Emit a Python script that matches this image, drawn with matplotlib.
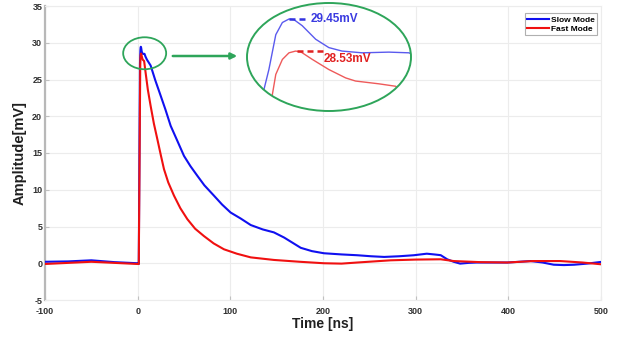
import matplotlib
matplotlib.use('Agg')
import matplotlib.pyplot as plt
from matplotlib.patches import Ellipse
import numpy as np

plt.rcParams['font.family'] = ['Liberation Sans', 'DejaVu Sans']
plt.rcParams['axes.unicode_minus'] = False

# Slow mode (blue) : time [ns], amplitude [mV]
t_slow = [-100, -75, -50, -25, 0, 1.2, 2.5, 2.73, 2.96, 3.18, 3.4, 3.57, 3.84, 4.29,
          4.73, 5.17, 5.84, 6.73, 7.4, 8.5, 10, 14, 19, 24.8, 30, 35.6, 43, 50, 57,
          64.4, 72, 82.3, 91, 100.3, 111, 122, 135, 147, 158, 167, 176, 188, 201,
          220, 237, 252, 266, 282, 298, 312, 320, 327, 334, 341, 348, 357, 366, 380,
          399, 412, 424, 437, 449, 460, 471, 485, 500]
v_slow = [0.2, 0.25, 0.4, 0.15, 0.0, -0.1, 27.2, 28.0, 29.0, 29.35, 29.45, 29.43, 29.26,
          28.87, 28.63, 28.53, 28.48, 28.5, 28.48, 28.1, 27.7, 26.9, 24.9, 22.8, 20.9,
          18.7, 16.6, 14.6, 13.2, 11.9, 10.6, 9.2, 8.0, 6.9, 6.1, 5.2, 4.6, 4.2, 3.5,
          2.8, 2.1, 1.65, 1.36, 1.2, 1.09, 0.95, 0.86, 0.95, 1.09, 1.3, 1.2, 1.1, 0.54,
          0.2, -0.05, 0.05, 0.1, 0.1, 0.1, 0.2, 0.3, 0.1, -0.2, -0.25, -0.2, -0.05, 0.18]

# Fast mode (red)
t_fast = [-100, -75, -50, -25, 0, 1.2, 2.79, 2.96, 3.18, 3.4, 3.62, 3.79, 4.18, 4.73,
          5.29, 5.62, 6.4, 6.96, 8.6, 11, 14, 17.5, 21.2, 25, 28.4, 33, 39.2, 46,
          53.6, 62, 71.5, 82, 93.1, 107, 122, 147, 175, 201, 220, 237, 255, 273, 300,
          327, 341, 370, 399, 427, 456, 480, 500]
v_fast = [-0.1, 0.05, 0.2, 0.05, -0.1, -0.1, 27.0, 27.86, 28.29, 28.48, 28.53, 28.51,
          28.29, 28.0, 27.76, 27.67, 27.59, 27.52, 25.9, 23.6, 21.4, 19.0, 16.9, 14.7,
          12.8, 11.0, 9.2, 7.5, 6.0, 4.7, 3.7, 2.7, 1.9, 1.3, 0.8, 0.45, 0.2, 0.0,
          -0.05, 0.1, 0.25, 0.4, 0.5, 0.54, 0.3, 0.15, 0.1, 0.3, 0.3, 0.1, -0.14]

peak_slow = 29.45
peak_fast = 28.53

W, H = 619, 341
fig = plt.figure(figsize=(W / 100, H / 100), dpi=100)
ax = fig.add_axes([45 / W, 1 - 300 / H, 556 / W, 294 / H])

ax.plot(t_slow, v_slow, color='#1010f0', lw=1.5, label='Slow Mode', zorder=3)
ax.plot(t_fast, v_fast, color='#f01010', lw=1.5, label='Fast Mode', zorder=3)

ax.set_xlim(-100, 500)
ax.set_ylim(-5, 35)
ax.set_xticks(np.arange(-100, 501, 100))
ax.set_yticks(np.arange(-5, 36, 5))
ax.grid(True, color='#ececec', lw=0.8)
ax.set_axisbelow(True)
for s in ['top', 'right', 'bottom']:
    ax.spines[s].set_color('#ececec')
ax.spines['left'].set_color('#b8b8b8')
ax.spines['left'].set_linewidth(1.6)
ax.tick_params(direction='in', length=3, color='#c0c0c0', labelsize=6.5,
               labelcolor='#303030', pad=2)
ax.tick_params(axis='x', pad=5)
for lab in ax.get_xticklabels() + ax.get_yticklabels():
    lab.set_fontweight('bold')
ax.set_xlabel('Time [ns]', fontsize=10, fontweight='bold', color='#202020', labelpad=1)
ax.set_ylabel('Amplitude[mV]', fontsize=10.5, fontweight='bold', color='#202020', labelpad=4)

leg = ax.legend(loc='upper right', bbox_to_anchor=(0.993, 0.975), fontsize=6,
                prop={'weight': 'bold', 'size': 6}, fancybox=False, framealpha=1,
                edgecolor='#b0b0b0', handlelength=2.6, borderpad=0.3,
                labelspacing=0.15, handletextpad=0.2, borderaxespad=0)
leg.get_frame().set_linewidth(0.8)

green = '#2ea55a'
# small ellipse around the peak
ax.add_patch(Ellipse((7.55, 28.57), 46.4, 4.35, fill=False, ec=green, lw=1.3, zorder=4))

# arrow to the zoomed view
ax.annotate('', xy=(240 / W, 1 - 56 / H), xytext=(170 / W, 1 - 56 / H),
            xycoords='figure fraction', textcoords='figure fraction',
            arrowprops=dict(arrowstyle='-|>', color=green, lw=1.8, mutation_scale=9))

# zoomed view inside big ellipse
big = Ellipse((329 / W, 1 - 57 / H), 164 / W, 108 / H, transform=fig.transFigure,
              fill=False, ec=green, lw=1.4, zorder=10)
fig.add_artist(big)

ins = fig.add_axes([247 / W, 1 - 111 / H, 164 / W, 108 / H])
ins.patch.set_visible(False)
ins.axis('off')
ins.set_xlim(2.0, 7.47)
ins.set_ylim(26.81, 29.91)
l1, = ins.plot(t_slow, v_slow, color='#5a5aee', lw=1.0)
l2, = ins.plot(t_fast, v_fast, color='#ee5a5a', lw=1.0)
d1, = ins.plot([3.4, 3.93], [peak_slow, peak_slow], color='#3333e0', lw=1.8,
               dashes=(2.4, 1.6))
d2, = ins.plot([3.67, 4.54], [peak_fast, peak_fast], color='#e02020', lw=1.8,
               dashes=(2.4, 1.6))
for ln in (l1, l2):
    ln.set_clip_path(big)
ins.text(4.13, peak_slow, '%.2fmV' % peak_slow, color='#3a3ae0', fontsize=8.5,
         fontweight='bold', va='center', ha='left')
ins.text(4.57, peak_fast - 0.24, '%.2fmV' % peak_fast, color='#e02020', fontsize=8.5,
         fontweight='bold', va='center', ha='left')

fig.savefig('out.png', dpi=100)
